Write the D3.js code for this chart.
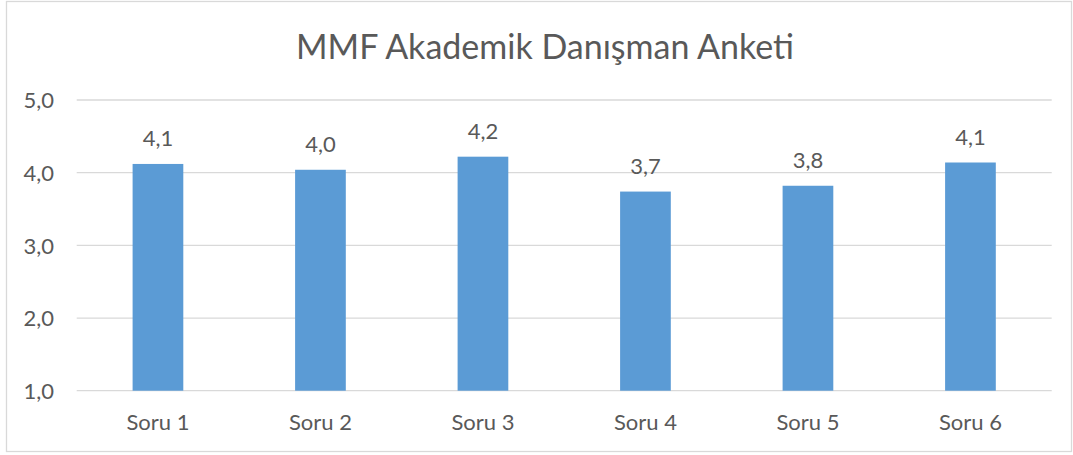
<!DOCTYPE html>
<html>
<head>
<meta charset="utf-8">
<script src="https://cdn.jsdelivr.net/npm/d3@7"></script>
<style>
  body { margin: 0; background: #fff; }
  text { font-family: Lato, "Open Sans", sans-serif; fill: #595959; }
</style>
</head>
<body>
<script>
// chart data
var categories = ["Soru 1", "Soru 2", "Soru 3", "Soru 4", "Soru 5", "Soru 6"];
var values = [4.12, 4.04, 4.22, 3.74, 3.82, 4.14];
var yTicks = [1, 2, 3, 4, 5];
var title = "MMF Akademik Danışman Anketi";

var w = 1073, h = 455;
var plotLeft = 76.7, plotRight = 1051.7, plotTop = 100, plotBottom = 390.7;

// Turkish style decimal comma
var tr = d3.formatLocale({decimal: ",", thousands: ".", grouping: [3], currency: ["", " TL"]});
var fmt = tr.format(".1f");

var svg = d3.select("body").append("svg")
  .attr("width", w)
  .attr("height", h);

// outer border
svg.append("rect")
  .attr("x", 6.5).attr("y", 1.5)
  .attr("width", 1065).attr("height", 450)
  .style("fill", "#fff")
  .style("stroke", "#d9d9d9")
  .style("stroke-width", 1.3);

var x = d3.scaleBand()
  .domain(categories)
  .range([plotLeft, plotRight])
  .paddingInner(0.688)
  .paddingOuter(0.344);

var y = d3.scaleLinear()
  .domain([1, 5])
  .range([plotBottom, plotTop]);

// gridlines
svg.selectAll(".grid")
  .data(yTicks)
  .enter()
  .append("line")
  .attr("class", "grid")
  .attr("x1", plotLeft).attr("x2", plotRight)
  .attr("y1", function(d){ return y(d); })
  .attr("y2", function(d){ return y(d); })
  .style("stroke", "#d9d9d9")
  .style("stroke-width", 1.3);

// y axis labels
var yAxis = d3.axisLeft(y).tickValues(yTicks).tickSize(0).tickPadding(0).tickFormat(fmt);
var ya = svg.append("g")
  .attr("transform", "translate(" + 54 + ",0)")
  .call(yAxis);
ya.select(".domain").remove();
ya.selectAll("text")
  .attr("dy", "0.35em")
  .style("font-size", "22px")
  .style("fill", "#595959")
  .style("font-family", "Lato, sans-serif");

// bars
svg.selectAll(".bar")
  .data(values)
  .enter()
  .append("rect")
  .attr("class", "bar")
  .attr("x", function(d, i){ return x(categories[i]); })
  .attr("width", x.bandwidth())
  .attr("y", function(d){ return y(d); })
  .attr("height", function(d){ return y(1) - y(d); })
  .style("fill", "#5b9bd5");

// value labels
svg.selectAll(".val")
  .data(values)
  .enter()
  .append("text")
  .attr("class", "val")
  .attr("text-anchor", "middle")
  .attr("x", function(d, i){ return x(categories[i]) + x.bandwidth() / 2; })
  .attr("y", function(d){ return y(d) - 18; })
  .style("font-size", "22px")
  .text(function(d){ return fmt(d); });

// x axis labels
var xAxis = d3.axisBottom(x).tickSize(0).tickPadding(0);
var xa = svg.append("g")
  .attr("transform", "translate(0," + (plotBottom + 24) + ")")
  .call(xAxis);
xa.select(".domain").remove();
xa.selectAll("text")
  .attr("dy", "0.71em")
  .style("font-size", "22px")
  .style("fill", "#595959")
  .style("font-family", "Lato, sans-serif");

// title
svg.append("text")
  .attr("x", 545)
  .attr("y", 59)
  .attr("text-anchor", "middle")
  .style("font-size", "34px")
  .text(title);
</script>
</body>
</html>
